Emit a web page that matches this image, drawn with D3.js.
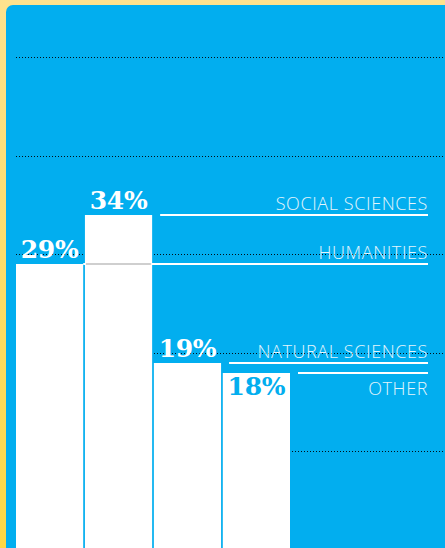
<!DOCTYPE html>
<html>
<head>
<meta charset="utf-8">
<script src="https://cdn.jsdelivr.net/npm/d3@7"></script>
<style>
  html, body { margin: 0; padding: 0; background: #ffe08c; overflow: hidden; }
  svg { display: block; }
  .grid line { stroke: #000; stroke-width: 1; stroke-dasharray: 1,2; opacity: 0.9; }
  .valueLabel { font-family: "DejaVu Serif", serif; font-weight: bold; font-size: 25px; text-anchor: middle; letter-spacing: -0.3px; }
  .catLabel { font-family: "Open Sans", Lato, sans-serif; font-weight: 300; font-size: 18px; fill: #e4f5fc; text-anchor: end; letter-spacing: 0.6px; }
</style>
</head>
<body>
<script>
(function () {

    // data
    var categories = ["HUMANITIES", "SOCIAL SCIENCES", "NATURAL SCIENCES", "OTHER"];
    var shares = [29, 34, 19, 18];
    var gridTicks = [10, 20, 30, 40, 50];

    var width = 445,
        height = 548,
        blue = "#02aeef";

    var svg = d3.select("body")
        .append("svg")
        .attr("width", width)
        .attr("height", height);

    // yellow backdrop, a bit deeper toward the bottom
    var defs = svg.append("defs");
    var grad = defs.append("linearGradient")
        .attr("id", "yel")
        .attr("x1", 0).attr("y1", 0).attr("x2", 0).attr("y2", 1);
    grad.append("stop").attr("offset", "0%").attr("stop-color", "#ffe28e");
    grad.append("stop").attr("offset", "100%").attr("stop-color", "#ffd743");

    svg.append("rect")
        .attr("width", width)
        .attr("height", height)
        .attr("fill", "url(#yel)");

    // blue panel with rounded top-left corner
    svg.append("rect")
        .attr("x", 6)
        .attr("y", 5)
        .attr("width", width + 20)
        .attr("height", height + 20)
        .attr("rx", 7)
        .attr("fill", blue);

    var x = d3.scaleBand()
        .domain(categories)
        .range([16, 290])
        .paddingInner(0.025);

    var y = d3.scaleLinear()
        .domain([0, 50])
        .range([550, 57]);

    // dotted grid
    svg.append("g")
        .attr("class", "grid")
        .selectAll("line")
        .data(gridTicks)
        .enter()
        .append("line")
        .attr("x1", 16)
        .attr("x2", width)
        .attr("y1", function (d) { return Math.round(y(d)) + 0.5; })
        .attr("y2", function (d) { return Math.round(y(d)) + 0.5; });

    // leader lines and category labels
    var labelRight = 428;

    function lineStart(i) {
        var right = x(categories[i]) + x.bandwidth();
        // when the next bar is taller the line runs right through it
        if (i + 1 < shares.length && shares[i + 1] > shares[i]) return right;
        return right + 8;
    }

    var leaders = svg.append("g");
    shares.forEach(function (v, i) {
        var yy = Math.round(y(v));
        leaders.append("line")
            .attr("x1", lineStart(i))
            .attr("x2", labelRight)
            .attr("y1", yy)
            .attr("y2", yy)
            .attr("stroke", "#fff")
            .attr("stroke-width", 2);

        var below = i > 0 && Math.abs(y(shares[i - 1]) - y(v)) < 20 && shares[i - 1] > v;
        leaders.append("text")
            .attr("class", "catLabel")
            .attr("x", labelRight)
            .attr("y", below ? yy + 22 : yy - 5)
            .text(categories[i]);
    });

    // bars
    svg.selectAll(".bar")
        .data(shares)
        .enter()
        .append("rect")
        .attr("class", "bar")
        .attr("x", function (d, i) { return x(categories[i]); })
        .attr("y", function (d) { return Math.round(y(d)); })
        .attr("width", x.bandwidth())
        .attr("height", function (d) { return height - Math.round(y(d)) + 5; })
        .attr("fill", "#fff");

    // leader lines that pass over a taller bar show up grey on it
    shares.forEach(function (v, i) {
        if (i + 1 < shares.length && shares[i + 1] > v) {
            var nx = x(categories[i + 1]);
            svg.append("line")
                .attr("x1", nx + 1)
                .attr("x2", nx + x.bandwidth() - 1)
                .attr("y1", Math.round(y(v)))
                .attr("y2", Math.round(y(v)))
                .attr("stroke", "#cfcfcf")
                .attr("stroke-width", 2);
        }
    });

    // percentage labels
    shares.forEach(function (v, i) {
        var top = Math.round(y(v));
        var inside = i > 0 && Math.abs(y(shares[i - 1]) - y(v)) < 20 && shares[i - 1] > v;
        svg.append("text")
            .attr("class", "valueLabel")
            .attr("x", x(categories[i]) + x.bandwidth() / 2)
            .attr("y", inside ? top + 22 : top - 6)
            .attr("fill", inside ? blue : "#fff")
            .text(v + "%");
    });

})();
</script>
</body>
</html>
